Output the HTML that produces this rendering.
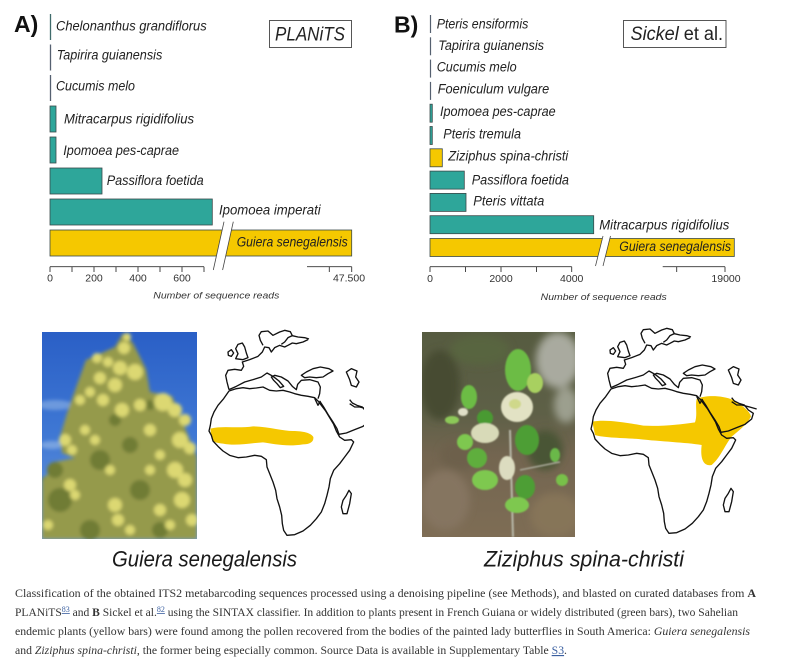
<!DOCTYPE html>
<html><head><meta charset="utf-8"><style>
html,body{margin:0;padding:0;background:#fff;}
svg{display:block;}
.lab{font-family:"Liberation Sans","DejaVu Sans",sans-serif;font-style:italic;font-size:13.5px;fill:#222;}
.tick{font-family:"Liberation Sans","DejaVu Sans",sans-serif;font-size:10.5px;fill:#333;}
.axt{font-family:"Liberation Sans","DejaVu Sans",sans-serif;font-style:italic;font-size:9.5px;fill:#333;}
.cap{font-family:"Liberation Serif","DejaVu Serif",serif;font-size:11.5px;fill:#333;}
.lnk{fill:#3a5fa0;text-decoration:underline;}
</style></head><body>
<svg width="800" height="668" viewBox="0 0 800 668" xmlns="http://www.w3.org/2000/svg">
<defs>
<linearGradient id="sky" x1="0" y1="0" x2="0" y2="1">
<stop offset="0" stop-color="#2a5fc6"/><stop offset="0.5" stop-color="#3f78d4"/><stop offset="1" stop-color="#6f9bdc"/>
</linearGradient>
<linearGradient id="bg2" x1="0" y1="0" x2="0" y2="1">
<stop offset="0" stop-color="#565b40"/><stop offset="0.4" stop-color="#5e6047"/><stop offset="0.6" stop-color="#736550"/><stop offset="1" stop-color="#7e6d55"/>
</linearGradient>
<filter id="b1" x="-10%" y="-10%" width="120%" height="120%"><feGaussianBlur stdDeviation="0.9"/></filter>
<filter id="b2" x="-10%" y="-10%" width="120%" height="120%"><feGaussianBlur stdDeviation="1.8"/></filter>
<filter id="b3" x="-10%" y="-10%" width="120%" height="120%"><feGaussianBlur stdDeviation="4"/></filter>
<clipPath id="cp1"><rect x="42" y="332" width="155" height="207"/></clipPath>
<clipPath id="cp2"><rect x="422" y="332" width="153" height="205"/></clipPath>
<clipPath id="cpm"><rect x="195" y="320" width="169" height="225"/></clipPath>
</defs>

<!-- ===== Panel A ===== -->
<text x="14" y="32" font-family="Liberation Sans, DejaVu Sans, sans-serif" font-weight="bold" font-size="23" fill="#111">A)</text>
<g stroke="#3a4a4a" stroke-width="0.8">
<line x1="50.5" y1="14" x2="50.5" y2="40" stroke="#3f6b6b" stroke-width="1.3"/>
<line x1="50.5" y1="44.5" x2="50.5" y2="70.5" stroke="#556070" stroke-width="1.3"/>
<line x1="50.5" y1="75" x2="50.5" y2="101" stroke="#556070" stroke-width="1.3"/>
<rect x="50" y="106" width="6" height="26" fill="#2ea69a"/>
<rect x="50" y="137" width="6" height="26" fill="#2ea69a"/>
<rect x="50" y="168" width="52" height="26" fill="#2ea69a"/>
<rect x="50" y="199" width="162.3" height="26" fill="#2ea69a"/>
<rect x="50" y="230" width="301.7" height="26" fill="#f5c800"/>
</g>
<polygon points="222.4,228.3 231.7,228.3 225.7,256.8 216.4,256.8" fill="#fff"/>
<line x1="224" y1="221.7" x2="213.3" y2="270" stroke="#444" stroke-width="0.8"/>
<line x1="233.3" y1="221.7" x2="222.6" y2="270" stroke="#444" stroke-width="0.8"/>

<text class="lab" x="56" y="30.7" textLength="150.7" lengthAdjust="spacingAndGlyphs">Chelonanthus grandiflorus</text>
<text class="lab" x="56.7" y="59.5" textLength="105.6" lengthAdjust="spacingAndGlyphs">Tapirira guianensis</text>
<text class="lab" x="56" y="90.7" textLength="79" lengthAdjust="spacingAndGlyphs">Cucumis melo</text>
<text class="lab" x="64" y="123.3" textLength="130" lengthAdjust="spacingAndGlyphs">Mitracarpus rigidifolius</text>
<text class="lab" x="63.3" y="155" textLength="115.7" lengthAdjust="spacingAndGlyphs">Ipomoea pes-caprae</text>
<text class="lab" x="106.7" y="185" textLength="97" lengthAdjust="spacingAndGlyphs">Passiflora foetida</text>
<text class="lab" x="219" y="214.3" textLength="101.7" lengthAdjust="spacingAndGlyphs">Ipomoea imperati</text>
<text class="lab" x="236.7" y="246.7" textLength="111" lengthAdjust="spacingAndGlyphs">Guiera senegalensis</text>

<rect x="269.5" y="20.5" width="82" height="27" fill="#fff" stroke="#444" stroke-width="0.9"/>
<text x="275" y="40.7" font-family="Liberation Sans, DejaVu Sans, sans-serif" font-style="italic" font-size="19" fill="#222" textLength="70" lengthAdjust="spacingAndGlyphs">PLANiTS</text>

<g stroke="#333" stroke-width="0.9">
<line x1="50" y1="266.7" x2="204" y2="266.7"/>
<line x1="50" y1="266.7" x2="50" y2="272"/><line x1="72" y1="266.7" x2="72" y2="272"/>
<line x1="94" y1="266.7" x2="94" y2="272"/><line x1="116" y1="266.7" x2="116" y2="272"/>
<line x1="138" y1="266.7" x2="138" y2="272"/><line x1="160" y1="266.7" x2="160" y2="272"/>
<line x1="182" y1="266.7" x2="182" y2="272"/><line x1="204" y1="266.7" x2="204" y2="272"/>
<line x1="307" y1="266.7" x2="351.7" y2="266.7"/>
<line x1="329.3" y1="266.7" x2="329.3" y2="272"/><line x1="351.7" y1="266.7" x2="351.7" y2="272"/>
</g>
<text class="tick" x="50" y="281.5" text-anchor="middle">0</text>
<text class="tick" x="94" y="281.5" text-anchor="middle">200</text>
<text class="tick" x="138" y="281.5" text-anchor="middle">400</text>
<text class="tick" x="182" y="281.5" text-anchor="middle">600</text>
<text class="tick" x="349" y="281.5" text-anchor="middle">47.500</text>
<text class="axt" x="153.3" y="298.5" textLength="126" lengthAdjust="spacingAndGlyphs">Number of sequence reads</text>

<!-- ===== Panel B ===== -->
<text x="394" y="32.3" font-family="Liberation Sans, DejaVu Sans, sans-serif" font-weight="bold" font-size="23" fill="#111">B)</text>
<g stroke="#3a4a4a" stroke-width="0.8">
<line x1="430.5" y1="15" x2="430.5" y2="33" stroke="#556070" stroke-width="1.2"/>
<line x1="430.5" y1="37.3" x2="430.5" y2="55.3" stroke="#556070" stroke-width="1.2"/>
<line x1="430.5" y1="59.6" x2="430.5" y2="77.6" stroke="#556070" stroke-width="1.2"/>
<line x1="430.5" y1="81.9" x2="430.5" y2="99.9" stroke="#556070" stroke-width="1.2"/>
<rect x="430" y="104.2" width="2.3" height="18" fill="#2ea69a"/>
<rect x="430" y="126.5" width="2.3" height="18" fill="#2ea69a"/>
<rect x="430" y="148.8" width="12.3" height="18" fill="#f5c800"/>
<rect x="430" y="171.1" width="34.3" height="18" fill="#2ea69a"/>
<rect x="430" y="193.4" width="36" height="18" fill="#2ea69a"/>
<rect x="430" y="215.7" width="163.7" height="18" fill="#2ea69a"/>
<rect x="430" y="238.5" width="304.3" height="18" fill="#f5c800"/>
</g>
<polygon points="602.2,238 609.7,238 605.4,257 597.9,257" fill="#fff"/>
<line x1="603" y1="236" x2="595.5" y2="266" stroke="#444" stroke-width="0.8"/>
<line x1="610.5" y1="236" x2="603" y2="266" stroke="#444" stroke-width="0.8"/>

<text class="lab" x="436.7" y="28.3" textLength="91.6" lengthAdjust="spacingAndGlyphs">Pteris ensiformis</text>
<text class="lab" x="438.3" y="50" textLength="105.7" lengthAdjust="spacingAndGlyphs">Tapirira guianensis</text>
<text class="lab" x="436.7" y="71.7" textLength="80" lengthAdjust="spacingAndGlyphs">Cucumis melo</text>
<text class="lab" x="437.7" y="93.3" textLength="111.6" lengthAdjust="spacingAndGlyphs">Foeniculum vulgare</text>
<text class="lab" x="440" y="116" textLength="115.7" lengthAdjust="spacingAndGlyphs">Ipomoea pes-caprae</text>
<text class="lab" x="443.3" y="138.3" textLength="77.7" lengthAdjust="spacingAndGlyphs">Pteris tremula</text>
<text class="lab" x="448.3" y="160.7" textLength="120" lengthAdjust="spacingAndGlyphs">Ziziphus spina-christi</text>
<text class="lab" x="471.7" y="184.3" textLength="97.3" lengthAdjust="spacingAndGlyphs">Passiflora foetida</text>
<text class="lab" x="473.3" y="205.7" textLength="71" lengthAdjust="spacingAndGlyphs">Pteris vittata</text>
<text class="lab" x="599.3" y="229.3" textLength="130" lengthAdjust="spacingAndGlyphs">Mitracarpus rigidifolius</text>
<text class="lab" x="619.3" y="251" textLength="111.7" lengthAdjust="spacingAndGlyphs">Guiera senegalensis</text>

<rect x="623.5" y="20.5" width="102.5" height="27" fill="#fff" stroke="#444" stroke-width="0.9"/>
<text x="630.5" y="40" font-family="Liberation Sans, DejaVu Sans, sans-serif" font-size="19" fill="#222" textLength="92.5" lengthAdjust="spacingAndGlyphs"><tspan font-style="italic">Sickel</tspan> et al.</text>

<g stroke="#333" stroke-width="0.9">
<line x1="430" y1="266.7" x2="571.7" y2="266.7"/>
<line x1="430" y1="266.7" x2="430" y2="272"/><line x1="465.5" y1="266.7" x2="465.5" y2="272"/>
<line x1="501" y1="266.7" x2="501" y2="272"/><line x1="536.5" y1="266.7" x2="536.5" y2="272"/>
<line x1="571.7" y1="266.7" x2="571.7" y2="272"/>
<line x1="662.7" y1="266.7" x2="725" y2="266.7"/>
<line x1="676.7" y1="266.7" x2="676.7" y2="272"/><line x1="725" y1="266.7" x2="725" y2="272"/>
</g>
<text class="tick" x="430" y="282" text-anchor="middle">0</text>
<text class="tick" x="501" y="282" text-anchor="middle">2000</text>
<text class="tick" x="571.7" y="282" text-anchor="middle">4000</text>
<text class="tick" x="726" y="282" text-anchor="middle">19000</text>
<text class="axt" x="540.7" y="300" textLength="126" lengthAdjust="spacingAndGlyphs">Number of sequence reads</text>

<!-- ===== Photo 1 ===== -->
<g clip-path="url(#cp1)">
<rect x="42" y="332" width="155" height="207" fill="url(#sky)"/>
<g filter="url(#b2)">
<ellipse cx="55" cy="405" rx="18" ry="5" fill="#8fb4e6" opacity="0.6"/>
<ellipse cx="52" cy="445" rx="12" ry="4" fill="#9bbde8" opacity="0.6"/>
<path d="M42,478 Q70,462 100,468 L197,458 L197,539 L42,539 Z" fill="#7e8c3a"/>
<polygon points="123,333 133,343 146,369 150,392 172,396 190,440 197,457 197,539 42,539 42,482 47,475 55,462 75,458 62,453 60,437 68,410 78,382 86,360 115,347" fill="#959a4c"/>
<g fill="#6f7c36">
<circle cx="100" cy="460" r="10"/><circle cx="60" cy="500" r="12"/><circle cx="140" cy="490" r="10"/>
<circle cx="90" cy="530" r="10"/><circle cx="55" cy="470" r="8"/><circle cx="130" cy="445" r="8"/>
<circle cx="115" cy="420" r="6"/><circle cx="160" cy="530" r="8"/><circle cx="150" cy="405" r="5"/>
</g>
<g fill="#dcd872">
<circle cx="127" cy="337" r="4"/><circle cx="124" cy="348" r="6"/><circle cx="97" cy="358" r="5"/>
<circle cx="108" cy="362" r="5"/><circle cx="120" cy="368" r="7"/><circle cx="135" cy="372" r="8"/>
<circle cx="100" cy="378" r="6"/><circle cx="115" cy="385" r="7"/><circle cx="90" cy="392" r="5"/>
<circle cx="80" cy="400" r="5"/><circle cx="103" cy="400" r="6"/><circle cx="122" cy="410" r="7"/>
<circle cx="140" cy="405" r="6"/><circle cx="163" cy="402" r="9"/><circle cx="175" cy="410" r="7"/>
<circle cx="185" cy="420" r="6"/><circle cx="180" cy="440" r="8"/><circle cx="190" cy="448" r="6"/>
<circle cx="65" cy="440" r="6"/><circle cx="72" cy="450" r="5"/><circle cx="85" cy="430" r="5"/>
<circle cx="95" cy="440" r="5"/><circle cx="150" cy="430" r="6"/><circle cx="160" cy="455" r="5"/>
<circle cx="175" cy="470" r="8"/><circle cx="185" cy="480" r="7"/><circle cx="182" cy="500" r="8"/>
<circle cx="192" cy="520" r="6"/><circle cx="70" cy="485" r="6"/><circle cx="75" cy="495" r="5"/>
<circle cx="115" cy="505" r="7"/><circle cx="118" cy="520" r="6"/><circle cx="130" cy="530" r="5"/>
<circle cx="160" cy="510" r="6"/><circle cx="170" cy="525" r="5"/><circle cx="150" cy="470" r="5"/>
<circle cx="110" cy="470" r="5"/><circle cx="48" cy="525" r="5"/>
</g>
</g>
</g>

<!-- ===== Photo 2 ===== -->
<g clip-path="url(#cp2)">
<rect x="422" y="332" width="153" height="205" fill="url(#bg2)"/>
<g filter="url(#b3)">
<ellipse cx="558" cy="360" rx="22" ry="28" fill="#a9aa9f"/>
<ellipse cx="566" cy="405" rx="12" ry="18" fill="#9c9f8e"/>
<ellipse cx="440" cy="385" rx="20" ry="35" fill="#474c33"/>
<ellipse cx="480" cy="350" rx="30" ry="15" fill="#58653f"/>
<ellipse cx="445" cy="500" rx="25" ry="30" fill="#857460"/>
<ellipse cx="555" cy="515" rx="25" ry="22" fill="#867559"/>
<ellipse cx="545" cy="450" rx="18" ry="20" fill="#4a5535"/>
<ellipse cx="460" cy="455" rx="20" ry="15" fill="#6d604b"/>
</g>
<g filter="url(#b1)">
<line x1="513" y1="537" x2="510" y2="430" stroke="#b8b8a8" stroke-width="2"/>
<line x1="520" y1="470" x2="560" y2="462" stroke="#a8a898" stroke-width="1.5"/>
<ellipse cx="518" cy="370" rx="13" ry="21" fill="#6cbc44"/>
<ellipse cx="535" cy="383" rx="8" ry="10" fill="#a8d060"/>
<ellipse cx="469" cy="397" rx="8" ry="12" fill="#6cbc44"/>
<ellipse cx="452" cy="420" rx="7" ry="4" fill="#8cc858"/>
<ellipse cx="485" cy="418" rx="8" ry="8" fill="#4a9a30"/>
<ellipse cx="527" cy="440" rx="12" ry="15" fill="#4e9e34"/>
<ellipse cx="465" cy="442" rx="8" ry="8" fill="#7ec850"/>
<ellipse cx="477" cy="458" rx="10" ry="10" fill="#5fae3c"/>
<ellipse cx="485" cy="480" rx="13" ry="10" fill="#7ec850"/>
<ellipse cx="525" cy="487" rx="10" ry="12" fill="#4e9e34"/>
<ellipse cx="517" cy="505" rx="12" ry="8" fill="#7ec850"/>
<ellipse cx="555" cy="455" rx="5" ry="7" fill="#6ab848"/>
<ellipse cx="562" cy="480" rx="6" ry="6" fill="#78c04a"/>
<ellipse cx="517" cy="407" rx="16" ry="15" fill="#e2e2c4"/>
<ellipse cx="485" cy="433" rx="14" ry="10" fill="#d8dab8"/>
<ellipse cx="507" cy="468" rx="8" ry="12" fill="#dcdcc0"/>
<ellipse cx="463" cy="412" rx="5" ry="4" fill="#e0e0c8"/>
<ellipse cx="515" cy="404" rx="6" ry="5" fill="#cfd88a"/>
</g>
</g>

<!-- ===== Maps ===== -->
<g clip-path="url(#cpm)">
<g transform="translate(203,327) scale(0.33333)">
<path d="M22,305 C60,295 100,305 150,298 C200,300 240,312 270,312 C300,312 325,318 331,330 C333,345 320,352 300,352 C250,360 210,350 180,346 C140,348 100,358 60,350 C40,348 28,345 26,335 Z" fill="#f5c800"/>
<g id="mapl" fill="none" stroke="#111" stroke-width="4" stroke-linejoin="round">
<path d="M78,192 L62,215 L45,235 L33,255 L25,275 L22,295 L18,312 L25,325 L30,342 L45,358 L60,372 L80,385 L105,392 L130,390 L155,385 L175,388 L190,398 L192,420 L200,440 L210,465 L218,490 L222,515 L230,540 L236,565 L238,590 L242,610 L252,625 L275,623 L300,612 L322,595 L340,575 L355,555 L365,530 L372,505 L378,480 L382,455 L392,430 L410,410 L425,390 L440,370 L452,345 L445,338 L425,340 L410,330 L400,312 L392,292 L380,272 L368,252 L355,235 L345,222 L335,212 L315,208 L295,205 L275,200 L260,195 L240,190 L220,192 L200,190 L180,180 L160,183 L140,185 L120,182 L100,185 Z"/>
<path d="M78,188 L100,178 L125,165 L150,158 L175,150 L192,138 L210,148 L228,162 L242,178 L232,182 L222,170 L212,160 L205,150 L215,145 L235,150 L255,162 L268,178 L280,188 L284,172 L295,160 L320,158 L345,165 L352,180 L350,200 L345,215"/>
<path d="M78,188 L72,165 L68,145 L75,130 L95,127 L115,130 L122,118 L118,105 L140,98 L165,88 L178,75 L185,60 L198,62 L205,75 L215,62 L230,55 L245,60 L255,55 L268,48 L280,50 L300,45 L315,38"/>
<path d="M180,55 L172,40 L168,25 L175,14 L195,12 L210,25 L230,15 L245,10 L262,14 L268,26 L255,32 L245,45 L235,52 M268,26 L285,30 L305,32 L318,36"/>
<path d="M98,95 L105,80 L98,65 L105,52 L118,48 L125,60 L130,78 L135,92 L120,98 Z"/>
<path d="M75,75 L85,68 L92,78 L85,88 L76,85 Z"/>
<path d="M295,145 L310,135 L330,125 L352,120 L378,125 L390,132 L375,140 L360,150 L340,152 L320,150 L305,152 Z"/>
<path d="M430,135 L445,125 L462,132 L458,150 L468,165 L460,180 L445,175 L440,158 Z"/>
<path d="M350,222 L362,240 L375,262 L390,285 L402,305 L408,322 L430,318 L455,308 L480,298 L500,282 L505,265 L490,255 L478,240 L462,235 L448,228 L440,218"/>
<path d="M440,230 L455,240 L470,240 L490,245 L515,252"/>
<path d="M335,214 L345,235 L352,222"/>
<path d="M430,505 L438,490 L445,500 L440,530 L432,560 L420,560 L415,540 L420,520 Z"/>
</g>
</g>
</g>

<g transform="translate(585,325) scale(0.33333)">
<path d="M22,290 C60,282 120,292 175,302 C230,305 290,298 330,292 C338,270 330,240 335,222 C360,210 410,210 445,225 C470,240 495,258 498,275 C485,300 460,318 440,335 C420,360 405,400 380,420 C355,425 345,400 350,360 C300,352 230,350 160,342 C100,338 55,338 30,330 Z" fill="#f5c800"/>
<use href="#mapl"/>
</g>

<text x="112" y="566.7" font-family="Liberation Sans, DejaVu Sans, sans-serif" font-style="italic" font-size="22" fill="#1a1a1a" textLength="185" lengthAdjust="spacingAndGlyphs">Guiera senegalensis</text>
<text x="484" y="566.7" font-family="Liberation Sans, DejaVu Sans, sans-serif" font-style="italic" font-size="22" fill="#1a1a1a" textLength="200" lengthAdjust="spacingAndGlyphs">Ziziphus spina-christi</text>

<!-- ===== Caption ===== -->
<text class="cap" x="15" y="597" textLength="741" lengthAdjust="spacingAndGlyphs">Classification of the obtained ITS2 metabarcoding sequences processed using a denoising pipeline (see Methods), and blasted on curated databases from <tspan font-weight="bold">A</tspan></text>
<text class="cap" x="15" y="616" textLength="723" lengthAdjust="spacingAndGlyphs">PLANiTS<tspan class="lnk" font-size="8" dy="-4">83</tspan><tspan dy="4"> and </tspan><tspan font-weight="bold">B</tspan> Sickel et al.<tspan class="lnk" font-size="8" dy="-4">82</tspan><tspan dy="4"> using the SINTAX classifier. In addition to plants present in French Guiana or widely distributed (green bars), two Sahelian</tspan></text>
<text class="cap" x="15" y="635" textLength="735" lengthAdjust="spacingAndGlyphs">endemic plants (yellow bars) were found among the pollen recovered from the bodies of the painted lady butterflies in South America: <tspan font-style="italic">Guiera senegalensis</tspan></text>
<text class="cap" x="15" y="654" textLength="552" lengthAdjust="spacingAndGlyphs">and <tspan font-style="italic">Ziziphus spina-christi</tspan>, the former being especially common. Source Data is available in Supplementary Table <tspan class="lnk">S3</tspan>.</text>
</svg>
</body></html>
